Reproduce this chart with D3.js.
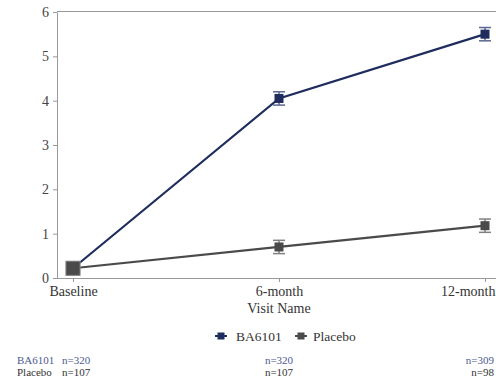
<!DOCTYPE html>
<html>
<head>
<meta charset="utf-8">
<script src="https://cdn.jsdelivr.net/npm/d3@7"></script>
<style>
  html, body { margin: 0; padding: 0; background: #fff; }
  svg { display: block; }
  text { font-family: "Liberation Serif", "DejaVu Serif", serif; }
</style>
</head>
<body>
<svg id="chart" width="496" height="377"></svg>
<script>
// Visits along the x axis
const visits = ["Baseline", "6-month", "12-month"];
// Mean values per visit
const ba6101Mean = [0.22, 4.05, 5.50];
const placeboMean = [0.22, 0.70, 1.18];
// Half-width of the error bars
const ba6101Err = [0, 0.15, 0.15];
const placeboErr = [0, 0.15, 0.15];
// Subjects per visit
const ba6101N = [320, 320, 309];
const placeboN = [107, 107, 98];
const yTicks = [0, 1, 2, 3, 4, 5, 6];

const series = [
  { name: "BA6101", mean: ba6101Mean, err: ba6101Err, n: ba6101N, color: "#1f2d5e", bar: "#5b6790", text: "#4a5a8f" },
  { name: "Placebo", mean: placeboMean, err: placeboErr, n: placeboN, color: "#4a4a4a", bar: "#808080", text: "#333" }
];

const svg = d3.select("#chart");
const width = 496;
const plotLeft = 57, plotTop = 12, plotRight = 500, plotBottom = 278;

const x = d3.scalePoint().domain(visits).range([73, 485]);
const y = d3.scaleLinear().domain([0, 6]).range([plotBottom, plotTop]);

// frame: top border
svg.append("line").attr("x1", plotLeft).attr("x2", plotRight).attr("y1", plotTop - 0.5).attr("y2", plotTop - 0.5)
  .attr("stroke", "#999").attr("stroke-width", 1);

// y axis
const yAxis = svg.append("g").attr("transform", `translate(${plotLeft},0)`)
  .call(d3.axisLeft(y).tickValues(yTicks).tickFormat(d3.format("d")).tickSize(4).tickPadding(4).tickSizeOuter(0));
yAxis.select(".domain").attr("stroke", "#999");
yAxis.selectAll(".tick line").attr("stroke", "#999");
yAxis.selectAll(".tick text").attr("font-size", 14).attr("fill", "#444");

// x axis
const xAxis = svg.append("g").attr("transform", `translate(0,${plotBottom})`)
  .call(d3.axisBottom(x).tickSize(4).tickPadding(4).tickSizeOuter(0));
xAxis.select(".domain").attr("d", `M${plotLeft},0.5H${plotRight}`).attr("stroke", "#999");
xAxis.selectAll(".tick line").attr("stroke", "#999");
xAxis.selectAll(".tick text").attr("font-size", 14).attr("fill", "#333");
// keep the last tick label inside the page edge
xAxis.selectAll(".tick text").filter(d => d === visits[visits.length - 1])
  .attr("text-anchor", "end").attr("x", (width - 1) - x(visits[visits.length - 1]));

svg.append("text").attr("x", x("6-month")).attr("y", 313).attr("text-anchor", "middle")
  .attr("font-size", 14).attr("fill", "#333").text("Visit Name");

// lines, error bars, markers
const line = d3.line().x((d, i) => x(visits[i])).y(d => y(d));
series.forEach(s => {
  const g = svg.append("g");
  g.append("path").datum(s.mean).attr("d", line).attr("fill", "none")
    .attr("stroke", s.color).attr("stroke-width", 2.2);
  s.mean.forEach((m, i) => {
    if (s.err[i] > 0) {
      const cx = x(visits[i]);
      const y0 = y(m - s.err[i]), y1 = y(m + s.err[i]);
      g.append("line").attr("x1", cx).attr("x2", cx).attr("y1", y0).attr("y2", y1)
        .attr("stroke", s.bar).attr("stroke-width", 1.5);
      [y0, y1].forEach(yy => g.append("line").attr("x1", cx - 6).attr("x2", cx + 6)
        .attr("y1", yy).attr("y2", yy).attr("stroke", s.bar).attr("stroke-width", 1.5));
    }
  });
});
series.forEach(s => {
  s.mean.forEach((m, i) => {
    const size = i === 0 ? 14 : 9;
    svg.append("rect").attr("x", x(visits[i]) - size / 2).attr("y", y(m) - size / 2)
      .attr("width", size).attr("height", size)
      .attr("fill", i === 0 ? "#4a4a4a" : s.color)
      .attr("stroke", i === 0 ? "#888" : "none").attr("stroke-width", 0.8);
  });
});

// legend
const legend = svg.append("g").attr("transform", "translate(0,336)");
const legendX = [215, 295];
series.forEach((s, i) => {
  const lx = legendX[i];
  legend.append("line").attr("x1", lx).attr("x2", lx + 12).attr("y1", 0).attr("y2", 0)
    .attr("stroke", s.color).attr("stroke-width", 2);
  legend.append("rect").attr("x", lx + 2.5).attr("y", -3.5).attr("width", 7).attr("height", 7).attr("fill", s.color);
  legend.append("text").attr("x", lx + (i === 0 ? 21 : 18)).attr("y", 4.5).attr("font-size", 13.5).attr("fill", "#333").text(s.name);
});

// subject counts per visit
series.forEach((s, r) => {
  const ty = 364 + r * 12;
  svg.append("text").attr("x", 17).attr("y", ty).attr("font-size", 11).attr("fill", s.text).text(s.name);
  s.n.forEach((n, i) => {
    let tx = x(visits[i]), anchor = "middle";
    if (i === 0) { tx = 62; anchor = "start"; }
    if (i === visits.length - 1) { tx = 494; anchor = "end"; }
    svg.append("text").attr("x", tx).attr("y", ty).attr("text-anchor", anchor)
      .attr("font-size", 11).attr("fill", s.text).text("n=" + n);
  });
});
</script>
</body>
</html>
